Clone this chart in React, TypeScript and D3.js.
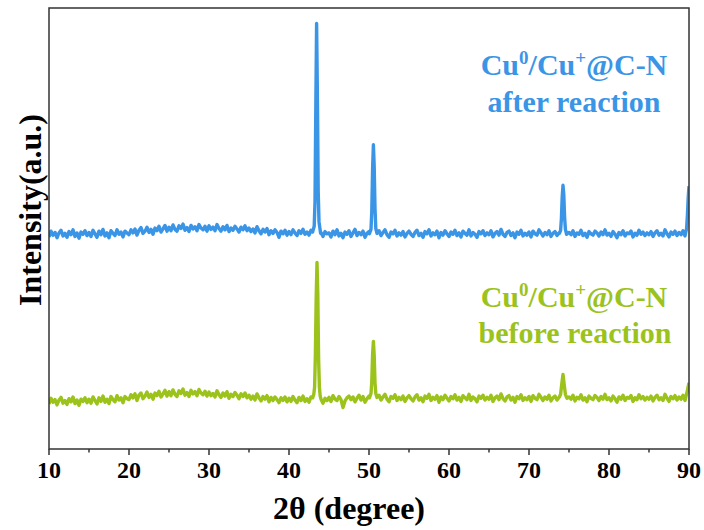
import React from "react";
import * as d3 from "d3";

// 2θ grid for background (step 0.25°, from 10° to 90°)
const bgStart = 10;
const bgStep = 0.25;

const blueBackground = [
  481, 494, 485, 491, 479, 490, 496, 483, 489, 480, 493, 486, 497, 482, 490, 478, 492, 487, 495, 484,
  491, 482, 496, 488, 480, 494, 486, 498, 483, 490, 479, 495, 489, 484, 497, 487, 492, 481, 494, 490,
  486, 497, 490, 499, 485, 496, 502, 489, 494, 503, 491, 498, 487, 501, 495, 505, 492, 499, 507, 494,
  503, 495, 508, 498, 494, 506, 500, 510, 496, 502, 493, 507, 499, 504, 495, 509, 501, 497, 505, 494,
  506, 498, 503, 495, 509, 500, 494, 504, 497, 507, 493, 501, 496, 505, 499, 492, 503, 497, 506, 495,
  501, 493, 499, 490, 504, 495, 488, 498, 492, 500, 486, 495, 489, 497, 491, 480, 494, 488, 496, 485,
  493, 486, 497, 490, 484, 495, 489, 498, 487, 492, 485, 496, 490, 483, 494, 487, 491, 482, 493, 488,
  490, 481, 494, 486, 497, 483, 489, 479, 492, 487, 495, 482, 490, 498, 484, 491, 486, 494, 480, 489,
  493, 485, 490, 482, 488, 495, 484, 491, 497, 486, 480, 492, 488, 496, 483, 490, 485, 493, 481, 489,
  494, 487, 482, 491, 496, 484, 489, 480, 493, 488, 497, 483, 490, 486, 494, 479, 491, 485, 495, 488,
  482, 492, 487, 496, 484, 490, 481, 494, 489, 485, 497, 483, 491, 487, 480, 493, 488, 495, 484, 490,
  486, 495, 481, 489, 493, 485, 498, 487, 482, 491, 494, 484, 490, 479, 492, 487, 496, 483, 489, 485,
  492, 481, 494, 488, 485, 497, 490, 483, 491, 486, 495, 482, 489, 493, 484, 490, 487, 494, 481, 488,
  491, 486, 495, 482, 490, 487, 496, 484, 489, 480, 493, 488, 485, 494, 490, 483, 492, 486, 497, 485,
  489, 482, 493, 487, 479, 491, 486, 495, 483, 490, 488, 494, 481, 489, 485, 496, 487, 492, 484, 490,
  486, 493, 482, 490, 495, 485, 489, 483, 497, 488, 481, 492, 487, 494, 484, 491, 486, 495, 483, 490,
  596,
];

const greenBackground = [
  102, 115, 106, 112, 100, 111, 117, 104, 110, 101, 114, 107, 118, 103, 111, 99, 113, 108, 116, 105,
  113, 104, 118, 110, 102, 116, 108, 120, 106, 113, 103, 119, 112, 107, 121, 111, 116, 105, 119, 114,
  112, 123, 116, 125, 110, 122, 127, 114, 120, 129, 117, 124, 113, 127, 121, 131, 118, 125, 133, 120,
  130, 121, 134, 124, 119, 132, 126, 136, 122, 128, 119, 133, 125, 130, 121, 135, 127, 123, 131, 120,
  129, 121, 126, 118, 132, 123, 117, 127, 120, 130, 115, 124, 119, 128, 122, 114, 125, 119, 127, 116,
  122, 113, 120, 111, 125, 116, 109, 119, 113, 121, 107, 117, 110, 118, 112, 105, 116, 110, 118, 107,
  115, 108, 119, 111, 105, 117, 110, 120, 108, 114, 106, 118, 112, 104, 116, 109, 113, 104, 115, 110,
  117, 108, 121, 113, 110, 119, 112, 94, 109, 116, 120, 112, 118, 107, 115, 122, 111, 119, 106, 114,
  120, 112, 117, 109, 115, 122, 111, 118, 124, 113, 107, 119, 115, 123, 110, 117, 112, 120, 108, 116,
  121, 114, 109, 118, 123, 111, 116, 107, 120, 115, 124, 110, 117, 113, 121, 106, 118, 112, 122, 115,
  109, 119, 114, 123, 111, 117, 108, 121, 116, 112, 124, 110, 118, 114, 107, 120, 115, 122, 111, 117,
  113, 122, 108, 116, 120, 112, 125, 114, 109, 118, 121, 111, 117, 106, 119, 114, 123, 110, 116, 112,
  119, 108, 121, 115, 112, 124, 117, 110, 118, 113, 122, 109, 116, 120, 111, 117, 114, 121, 108, 115,
  118, 113, 122, 109, 117, 114, 123, 111, 116, 107, 120, 115, 112, 121, 117, 110, 119, 113, 124, 112,
  116, 109, 120, 114, 106, 118, 113, 122, 110, 117, 115, 121, 108, 116, 112, 123, 114, 119, 111, 117,
  113, 120, 109, 117, 122, 112, 116, 110, 124, 115, 108, 119, 114, 121, 111, 118, 113, 122, 110, 117,
  150,
];

// Diffraction peak centres (Cu 111, 200, 220, 311)
const peakCenters = [43.45, 50.55, 74.25, 90.0];

const bluePeakAngles = [
  42.95, 43.15, 43.25, 43.35, 43.45, 43.55, 43.65, 43.75, 43.95,
  50.05, 50.25, 50.35, 50.45, 50.55, 50.65, 50.75, 50.85, 51.0,
  73.8, 73.95, 74.05, 74.15, 74.25, 74.35, 74.45, 74.55, 74.7,
  89.7, 89.8, 89.9, 90.0,
];
const bluePeakValues = [
  492, 505, 560, 770, 965, 800, 585, 515, 489,
  488, 498, 540, 635, 690, 640, 545, 500, 489,
  489, 496, 522, 572, 598, 576, 526, 498, 487,
  500, 530, 570, 596,
];

const greenPeakAngles = [
  42.95, 43.1, 43.2, 43.3, 43.4, 43.5, 43.6, 43.7, 43.8, 43.9,
  50.05, 50.25, 50.35, 50.45, 50.55, 50.65, 50.75, 50.85, 51.0,
  73.8, 73.95, 74.1, 74.25, 74.4, 74.55, 74.7,
  89.7, 89.8, 89.9, 90.0,
];
const greenPeakValues = [
  116, 124, 140, 215, 345, 423, 350, 205, 140, 120,
  116, 126, 152, 215, 244, 212, 150, 126, 117,
  118, 124, 148, 169, 146, 124, 117,
  125, 132, 142, 150,
];

const xTicks = [10, 20, 30, 40, 50, 60, 70, 80, 90];
const xMinorTicks = [15, 25, 35, 45, 55, 65, 75, 85];

const BLUE = "#3b95e6";
const GREEN = "#9bc31c";
const FONT = "'Liberation Serif', 'Times New Roman', Times, serif";

function buildSeries(bg: number[], pa: number[], pv: number[]) {
  const pts: [number, number][] = [];
  bg.forEach((v, i) => {
    const a = bgStart + i * bgStep;
    if (!peakCenters.some((c) => Math.abs(a - c) < 0.5)) pts.push([a, v]);
  });
  pa.forEach((a, i) => pts.push([a, pv[i]]));
  pts.sort((p, q) => p[0] - q[0]);
  return pts;
}

export default function App() {
  const W = 704;
  const H = 530;
  const left = 49;
  const right = 689;
  const top = 8;
  const bottom = 449;

  const x = d3.scaleLinear().domain([10, 90]).range([left, right]);
  const y = d3.scaleLinear().domain([0, 1000]).range([bottom, top]);
  const line = d3
    .line<[number, number]>()
    .x((d) => x(d[0]))
    .y((d) => y(d[1]));

  const blue = buildSeries(blueBackground, bluePeakAngles, bluePeakValues);
  const green = buildSeries(greenBackground, greenPeakAngles, greenPeakValues);

  const supStyle = { fontSize: 19 };

  return (
    <svg
      width={W}
      height={H}
      style={{ position: "absolute", left: 0, top: 0, background: "#fff", fontFamily: FONT, fontWeight: "bold" }}
    >
      <defs>
        <clipPath id="plotclip">
          <rect x={left} y={top} width={right - left} height={bottom - top} />
        </clipPath>
      </defs>
      <g clipPath="url(#plotclip)">
        <path d={line(green) || ""} fill="none" stroke={GREEN} strokeWidth={3.4} strokeLinejoin="round" />
        <path d={line(blue) || ""} fill="none" stroke={BLUE} strokeWidth={3.4} strokeLinejoin="round" />
      </g>
      <rect
        x={left}
        y={top}
        width={right - left}
        height={bottom - top}
        fill="none"
        stroke="#333"
        strokeWidth={1.5}
      />
      {xTicks.map((t) => (
        <g key={t}>
          <line x1={x(t)} x2={x(t)} y1={bottom} y2={bottom + 6} stroke="#333" strokeWidth={1.5} />
          <text x={x(t)} y={478} textAnchor="middle" fontSize={24} fill="#000">
            {t}
          </text>
        </g>
      ))}
      {xMinorTicks.map((t) => (
        <line key={t} x1={x(t)} x2={x(t)} y1={bottom} y2={bottom + 3.5} stroke="#333" strokeWidth={1.5} />
      ))}
      <text x={349} y={519} textAnchor="middle" fontSize={32} fill="#000">
        2θ (degree)
      </text>
      <text
        transform={`translate(41, 210) rotate(-90)`}
        textAnchor="middle"
        fontSize={32}
        fill="#000"
      >
        Intensity(a.u.)
      </text>

      <text x={574} y={75} textAnchor="middle" fontSize={30} fill={BLUE}>
        Cu<tspan dy={-11} style={supStyle}>0</tspan>
        <tspan dy={11}>/Cu</tspan>
        <tspan dy={-11} style={supStyle}>+</tspan>
        <tspan dy={11}>@C-N</tspan>
      </text>
      <text x={574} y={112} textAnchor="middle" fontSize={30} fill={BLUE}>
        after reaction
      </text>

      <text x={574} y={307} textAnchor="middle" fontSize={30} fill={GREEN}>
        Cu<tspan dy={-11} style={supStyle}>0</tspan>
        <tspan dy={11}>/Cu</tspan>
        <tspan dy={-11} style={supStyle}>+</tspan>
        <tspan dy={11}>@C-N</tspan>
      </text>
      <text x={575} y={343} textAnchor="middle" fontSize={30} fill={GREEN}>
        before reaction
      </text>
    </svg>
  );
}
